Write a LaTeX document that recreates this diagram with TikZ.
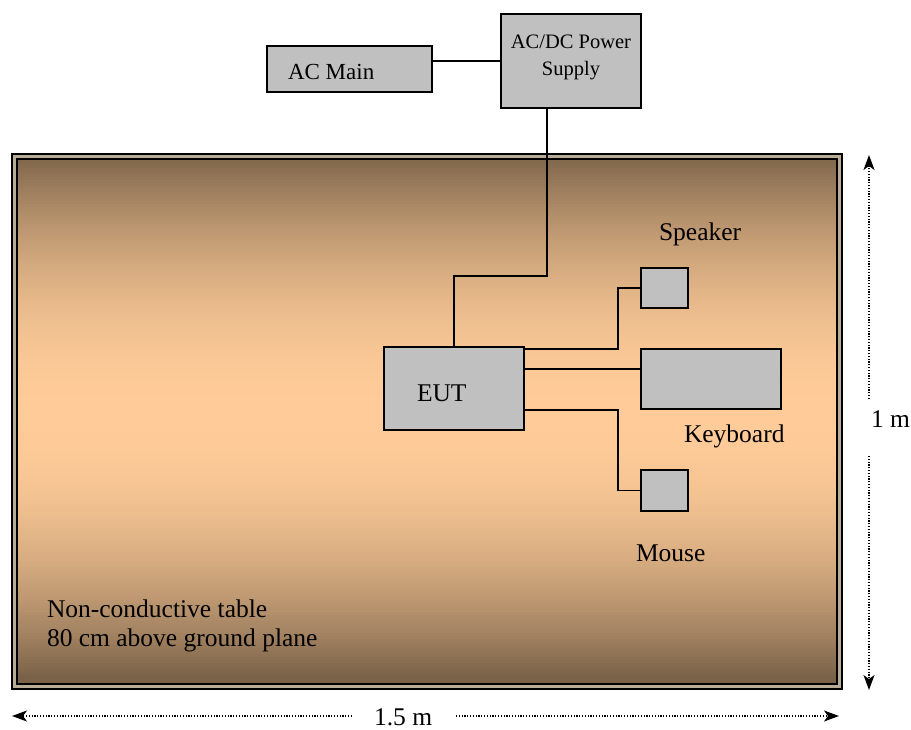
\documentclass[tikz,border=0pt]{standalone}
\usepackage{fontspec}
\setmainfont{Liberation Serif}
\usetikzlibrary{arrows.meta,calc}
\definecolor{tabdark}{RGB}{122,98,72}
\definecolor{tablight}{RGB}{255,204,153}
\definecolor{tabgap}{RGB}{185,172,150}
\definecolor{boxgray}{RGB}{192,192,192}
\begin{document}
\begin{tikzpicture}[x=1pt,y=-1pt,
  box/.style={draw=black,fill=boxgray,line width=1.6pt,inner sep=0pt,outer sep=0pt,anchor=north west},
  lbl/.style={inner sep=0pt,outer sep=0pt,anchor=base west,font=\fontsize{25.5}{30}\selectfont},
  wire/.style={line width=1.5pt,line join=miter},
  dim/.style={line width=1.3pt,dash pattern=on 1.2pt off 1.6pt,-{Stealth[length=15pt,width=11pt,inset=4pt]}}
]
\useasboundingbox (0,0) rectangle (911,729);
\fill[white] (0,0) rectangle (911,729);
% table
\filldraw[fill=tabgap,draw=black,line width=2.4pt] (12,154) rectangle (842,689);
\foreach \i in {0,...,174}{
  \pgfmathsetmacro{\yy}{159+3*\i}
  \pgfmathsetmacro{\dd}{min(1,abs(\yy+1.5-415)/262)}
  \pgfmathsetmacro{\pp}{100*(1-\dd*\dd)}
  \fill[tablight!\pp!tabdark] (17,\yy) rectangle (837,\yy+3.4);
}
\draw[black,line width=2.6pt] (17,159) rectangle (837,684);
% boxes
\node[box,minimum width=165pt,minimum height=46pt] (acmain) at (267,46) {};
\node[box,minimum width=140pt,minimum height=94pt] (psu) at (501,14) {};
\node[box,minimum width=140pt,minimum height=83pt] (eut) at (384,347) {};
\node[box,minimum width=47pt,minimum height=40pt] (spk) at (641,268) {};
\node[box,minimum width=140pt,minimum height=60pt] (kb) at (641,349) {};
\node[box,minimum width=47pt,minimum height=41pt] (mouse) at (641,470) {};
% texts
\node[lbl,font=\fontsize{23}{28}\selectfont] (tacmain) at (288,79) {AC Main};
\node[lbl,anchor=base,font=\fontsize{20.5}{25}\selectfont] (tpsu1) at (571,48) {AC/DC Power};
\node[lbl,anchor=base,font=\fontsize{20.5}{25}\selectfont] (tpsu2) at (571,75) {Supply};
\node[lbl] (teut) at (417,401) {EUT};
\node[lbl] (tspk) at (659,240) {Speaker};
\node[lbl] (tkb) at (684,442) {Keyboard};
\node[lbl] (tmouse) at (636,561) {Mouse};
\node[lbl] (ttab1) at (47,617) {Non-conductive table};
\node[lbl] (ttab2) at (47,646) {80 cm above ground plane};
\node[lbl] (t1m) at (871,427) {1 m};
\node[lbl] (t15m) at (374,725) {1.5 m};
% wires
\draw[wire] (psu.west) -- (psu.west -| acmain.east);
\coordinate (j1) at (547,276);
\coordinate (eutin) at ($(eut.north west)+(70,0)$);
\draw[wire] (psu.south -| j1) -- (j1) -| (eutin);
\coordinate (s1) at ($(eut.north east)+(0,2)$);
\draw[wire] (s1) -- (618,349) |- (spk.west);
\coordinate (kbin) at ($(kb.north west)+(0,20)$);
\draw[wire] (kbin -| eut.east) -- (kbin);
\coordinate (m1) at ($(eut.south east)+(0,-20)$);
\draw[wire] (m1) -- (618,410) |- (mouse.west);
% dimensions
\coordinate (vtop) at (869,155);
\coordinate (vbot) at (869,690);
\coordinate (hleft) at (12,716);
\coordinate (hright) at (839,716);
\coordinate (hl1) at (352,716);
\coordinate (hr1) at (456,716);
\draw[dim] (869,399) -- (vtop);
\draw[dim] (869,456) -- (vbot);
\draw[dim] (hl1) -- (hleft);
\draw[dim] (hr1) -- (hright);
\end{tikzpicture}
\end{document}
